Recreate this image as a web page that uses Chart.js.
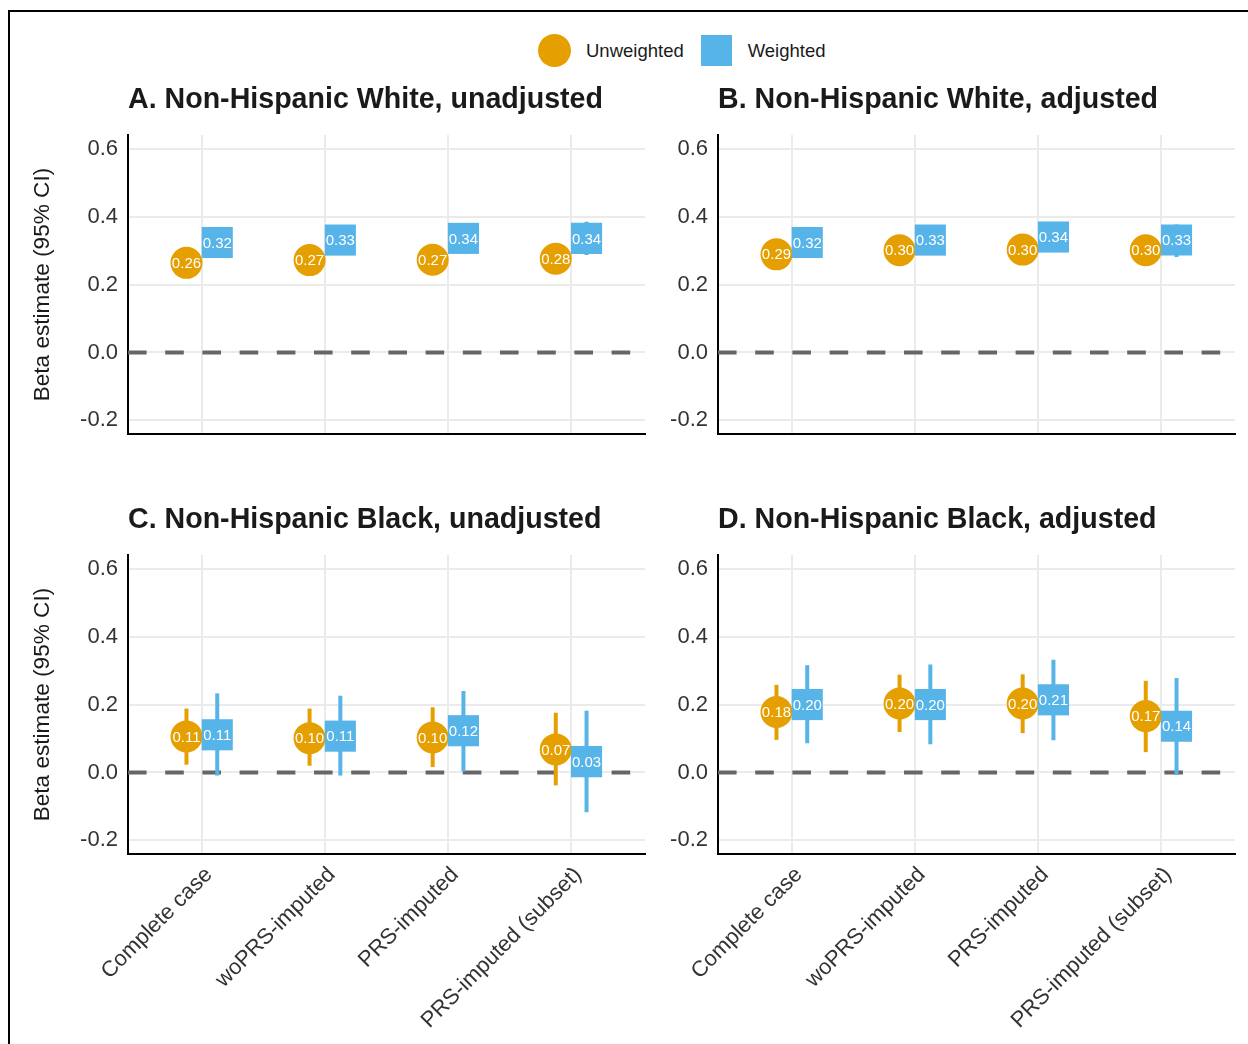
<!DOCTYPE html>
<html>
<head>
<meta charset="utf-8">
<script src="https://cdn.jsdelivr.net/npm/chart.js@4.4.1/dist/chart.umd.min.js"></script>
<style>
  body { margin: 0; width: 1248px; height: 1044px; overflow: hidden; background: #fff; position: relative;
         font-family: "Liberation Sans", Arial, sans-serif; }
  #frame { position: absolute; left: 8px; top: 10px; width: 1300px; height: 1100px; border: 2px solid #000; }
  canvas { position: absolute; }
  #legend { position: absolute; left: 538px; top: 34px; height: 33px; display: flex; align-items: center;
            font-size: 18.5px; color: #1a1a1a; }
  #legend .dot { width: 33px; height: 33px; border-radius: 50%; background: #E69F00; margin-right: 15px; }
  #legend .sq { width: 31px; height: 31px; background: #56B4E9; margin-left: 17px; margin-right: 16px; }
</style>
</head>
<body>
<div id="frame"></div>
<div id="legend"><span class="dot"></span><span>Unweighted</span><span class="sq"></span><span>Weighted</span></div>
<canvas id="panelA" width="638" height="388" style="left:12px; top:70px;"></canvas>
<canvas id="panelB" width="638" height="388" style="left:602px; top:70px;"></canvas>
<canvas id="panelC" width="638" height="554" style="left:12px; top:490px;"></canvas>
<canvas id="panelD" width="638" height="554" style="left:602px; top:490px;"></canvas>
<script>
"use strict";
const methods = ['Complete case', 'woPRS-imputed', 'PRS-imputed', 'PRS-imputed (subset)'];
const yTicks = [-0.2, 0, 0.2, 0.4, 0.6];
const panelTitles = [
    'A. Non-Hispanic White, unadjusted',
    'B. Non-Hispanic White, adjusted',
    'C. Non-Hispanic Black, unadjusted',
    'D. Non-Hispanic Black, adjusted'
];

// A. White, unadjusted
const aUnwEst = [0.264, 0.272, 0.273, 0.276];
const aUnwLo = [0.235, 0.243, 0.245, 0.245];
const aUnwHi = [0.293, 0.301, 0.301, 0.307];
const aWtEst = [0.324, 0.331, 0.336, 0.336];
const aWtLo = [0.290, 0.295, 0.298, 0.287];
const aWtHi = [0.358, 0.367, 0.374, 0.385];
// B. White, adjusted
const bUnwEst = [0.289, 0.301, 0.303, 0.301];
const bUnwLo = [0.262, 0.275, 0.277, 0.273];
const bUnwHi = [0.316, 0.327, 0.329, 0.329];
const bWtEst = [0.324, 0.331, 0.340, 0.331];
const bWtLo = [0.291, 0.296, 0.305, 0.281];
const bWtHi = [0.357, 0.366, 0.375, 0.377];
// C. Black, unadjusted
const cUnwEst = [0.106, 0.101, 0.103, 0.068];
const cUnwLo = [0.023, 0.020, 0.016, -0.038];
const cUnwHi = [0.188, 0.188, 0.192, 0.176];
const cWtEst = [0.111, 0.107, 0.123, 0.032];
const cWtLo = [-0.009, -0.009, 0.003, -0.117];
const cWtHi = [0.233, 0.226, 0.240, 0.182];
// D. Black, adjusted
const dUnwEst = [0.178, 0.203, 0.203, 0.166];
const dUnwLo = [0.096, 0.119, 0.116, 0.060];
const dUnwHi = [0.258, 0.288, 0.289, 0.270];
const dWtEst = [0.200, 0.200, 0.214, 0.136];
const dWtLo = [0.086, 0.083, 0.095, -0.007];
const dWtHi = [0.316, 0.318, 0.332, 0.278];

const orange = '#E69F00';
const blue = '#56B4E9';
const dodge = 0.125;
const fontFamily = '"Liberation Sans", Arial, sans-serif';

// zero line + CI whiskers under the markers, value labels on top
const ciPlugin = {
    id: 'ci',
    beforeDatasetsDraw(chart) {
        const {ctx, chartArea, scales} = chart;
        const x = scales.x, y = scales.y;
        ctx.save();
        ctx.strokeStyle = '#666666';
        ctx.lineWidth = 4;
        ctx.setLineDash([18.6, 18.6]);
        const y0 = y.getPixelForValue(0);
        ctx.beginPath();
        ctx.moveTo(chartArea.left, y0);
        ctx.lineTo(chartArea.right, y0);
        ctx.stroke();
        ctx.setLineDash([]);
        chart.data.datasets.forEach(ds => {
            ctx.strokeStyle = ds.backgroundColor;
            ctx.lineWidth = 4;
            ds.data.forEach((p, i) => {
                const px = x.getPixelForValue(p.x);
                ctx.beginPath();
                ctx.moveTo(px, y.getPixelForValue(ds.lo[i]));
                ctx.lineTo(px, y.getPixelForValue(ds.hi[i]));
                ctx.stroke();
            });
        });
        ctx.restore();
    },
    afterDatasetsDraw(chart) {
        const ctx = chart.ctx;
        ctx.save();
        ctx.fillStyle = '#ffffff';
        ctx.font = '15px ' + fontFamily;
        ctx.textAlign = 'center';
        ctx.textBaseline = 'middle';
        chart.data.datasets.forEach((ds, d) => {
            const meta = chart.getDatasetMeta(d);
            meta.data.forEach((pt, i) => {
                ctx.fillText(ds.data[i].y.toFixed(2), pt.x, pt.y + 1);
            });
        });
        ctx.restore();
    }
};

function series(est, lo, hi, shift, color, style, radius) {
    return {
        data: est.map((v, i) => ({x: i + 1 + shift, y: v})),
        lo: lo,
        hi: hi,
        backgroundColor: color,
        borderWidth: 0,
        pointStyle: style,
        pointRadius: radius,
        pointHoverRadius: radius
    };
}

function makePanel(id, title, unw, wt, showYTitle, showXLabels, xHeight) {
    new Chart(document.getElementById(id), {
        type: 'scatter',
        data: {
            datasets: [
                series(wt[0], wt[1], wt[2], dodge, blue, 'rect', 22),
                series(unw[0], unw[1], unw[2], -dodge, orange, 'circle', 16)
            ]
        },
        options: {
            responsive: false,
            animation: false,
            devicePixelRatio: 1,
            layout: {autoPadding: false, padding: {left: 0, right: 5, top: 0, bottom: 0}},
            plugins: {
                legend: {display: false},
                tooltip: {enabled: false},
                title: {
                    display: true,
                    text: title,
                    align: 'start',
                    fullSize: false,
                    color: '#1a1a1a',
                    font: {family: fontFamily, size: 28.6, weight: 'bold'},
                    padding: {top: 13.2, bottom: 17.6}
                }
            },
            scales: {
                x: {
                    type: 'linear',
                    min: 0.4,
                    max: 4.6,
                    afterBuildTicks: axis => { axis.ticks = methods.map((m, i) => ({value: i + 1})); },
                    afterFit: scale => { scale.height = xHeight; },
                    grid: {color: '#EBEBEB', lineWidth: 2, drawTicks: false},
                    border: {display: true, color: '#000000', width: 2},
                    ticks: {
                        display: showXLabels,
                        autoSkip: false,
                        minRotation: 45,
                        maxRotation: 45,
                        padding: 8,
                        labelOffset: 7,
                        color: '#333333',
                        font: {family: fontFamily, size: 22},
                        callback: v => methods[Math.round(v) - 1]
                    }
                },
                y: {
                    min: -0.24,
                    max: 0.64,
                    afterBuildTicks: axis => { axis.ticks = yTicks.map(v => ({value: v})); },
                    afterFit: scale => { scale.width = 116; },
                    grid: {color: '#EBEBEB', lineWidth: 2, drawTicks: false},
                    border: {display: true, color: '#000000', width: 2},
                    ticks: {
                        padding: 10,
                        color: '#333333',
                        font: {family: fontFamily, size: 22},
                        callback: v => v.toFixed(1)
                    },
                    title: {
                        display: showYTitle,
                        text: 'Beta estimate (95% CI)',
                        color: '#1a1a1a',
                        font: {family: fontFamily, size: 22.6},
                        padding: {top: 17, bottom: 0}
                    }
                }
            }
        },
        plugins: [ciPlugin]
    });
}

makePanel('panelA', panelTitles[0], [aUnwEst, aUnwLo, aUnwHi], [aWtEst, aWtLo, aWtHi], true, false, 24);
makePanel('panelB', panelTitles[1], [bUnwEst, bUnwLo, bUnwHi], [bWtEst, bWtLo, bWtHi], false, false, 24);
makePanel('panelC', panelTitles[2], [cUnwEst, cUnwLo, cUnwHi], [cWtEst, cWtLo, cWtHi], true, true, 190);
makePanel('panelD', panelTitles[3], [dUnwEst, dUnwLo, dUnwHi], [dWtEst, dWtLo, dWtHi], false, true, 190);
</script>
</body>
</html>
